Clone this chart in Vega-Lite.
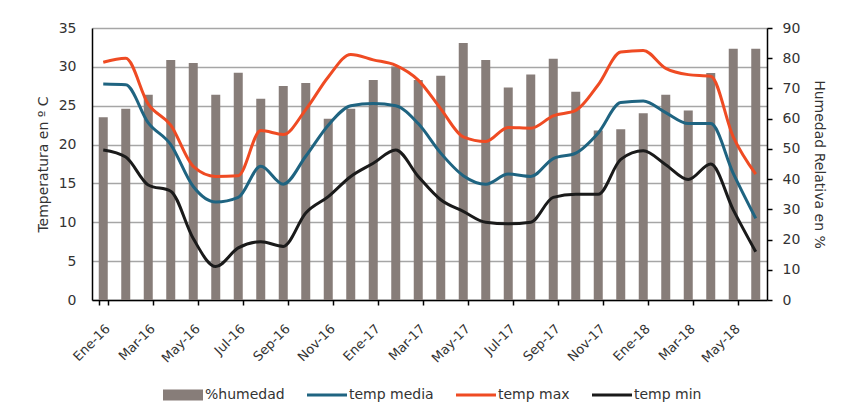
{
  "$schema": "https://vega.github.io/schema/vega-lite/v6.json",
  "autosize": "none",
  "width": 675,
  "height": 272,
  "padding": {"left": 92, "top": 28, "right": 74, "bottom": 116},
  "background": "white",
  "config": {
    "view": {"stroke": null},
    "font": "DejaVu Sans",
    "axis": {"labelFont": "DejaVu Sans", "titleFont": "DejaVu Sans", "labelColor": "#333333", "titleColor": "#333333", "labelFontSize": 14, "titleFontSize": 14, "titleFontWeight": "normal"}
  },
  "data": {"values": [
    {"mes": "Ene-16", "humedad": 60.5, "max": 30.6, "media": 27.8, "min": 19.3},
    {"mes": "Feb-16", "humedad": 63.3, "max": 31.1, "media": 27.7, "min": 18.4},
    {"mes": "Mar-16", "humedad": 67.9, "max": 25.2, "media": 22.8, "min": 14.8},
    {"mes": "Abr-16", "humedad": 79.4, "max": 22.5, "media": 20.0, "min": 14.0},
    {"mes": "May-16", "humedad": 78.4, "max": 17.2, "media": 14.6, "min": 7.9},
    {"mes": "Jun-16", "humedad": 67.9, "max": 15.9, "media": 12.6, "min": 4.3},
    {"mes": "Jul-16", "humedad": 75.2, "max": 16.0, "media": 13.2, "min": 6.7},
    {"mes": "Ago-16", "humedad": 66.6, "max": 21.8, "media": 17.2, "min": 7.5},
    {"mes": "Sep-16", "humedad": 70.8, "max": 21.3, "media": 14.9, "min": 6.9},
    {"mes": "Oct-16", "humedad": 71.8, "max": 24.5, "media": 18.5, "min": 11.2},
    {"mes": "Nov-16", "humedad": 60.0, "max": 28.7, "media": 22.5, "min": 13.3},
    {"mes": "Dic-16", "humedad": 63.3, "max": 31.6, "media": 25.0, "min": 15.9},
    {"mes": "Ene-17", "humedad": 72.8, "max": 30.9, "media": 25.3, "min": 17.6},
    {"mes": "Feb-17", "humedad": 77.3, "max": 30.2, "media": 25.0, "min": 19.3},
    {"mes": "Mar-17", "humedad": 72.8, "max": 28.3, "media": 22.7, "min": 15.9},
    {"mes": "Abr-17", "humedad": 74.2, "max": 24.6, "media": 18.9, "min": 12.9},
    {"mes": "May-17", "humedad": 85.0, "max": 21.0, "media": 16.0, "min": 11.4},
    {"mes": "Jun-17", "humedad": 79.4, "max": 20.4, "media": 14.9, "min": 10.0},
    {"mes": "Jul-17", "humedad": 70.3, "max": 22.2, "media": 16.2, "min": 9.8},
    {"mes": "Ago-17", "humedad": 74.6, "max": 22.1, "media": 15.9, "min": 10.0},
    {"mes": "Sep-17", "humedad": 79.8, "max": 23.7, "media": 18.2, "min": 13.2},
    {"mes": "Oct-17", "humedad": 68.9, "max": 24.4, "media": 18.9, "min": 13.6},
    {"mes": "Nov-17", "humedad": 56.1, "max": 27.7, "media": 21.5, "min": 13.6},
    {"mes": "Dic-17", "humedad": 56.5, "max": 31.9, "media": 25.4, "min": 18.1},
    {"mes": "Ene-18", "humedad": 61.8, "max": 32.1, "media": 25.6, "min": 19.2},
    {"mes": "Feb-18", "humedad": 67.9, "max": 29.8, "media": 24.1, "min": 17.4},
    {"mes": "Mar-18", "humedad": 62.7, "max": 29.0, "media": 22.7, "min": 15.5},
    {"mes": "Abr-18", "humedad": 75.1, "max": 28.8, "media": 22.7, "min": 17.5},
    {"mes": "May-18", "humedad": 83.1, "max": 21.0, "media": 16.3, "min": 11.6},
    {"mes": "Jun-18", "humedad": 83.1, "max": 16.2, "media": 10.5, "min": 6.2}
  ]},
  "transform": [{"fold": ["humedad", "media", "max", "min"], "as": ["serie", "valor"]}],
  "encoding": {
    "x": {
      "field": "mes", "type": "ordinal",
      "scale": {
        "type": "band", "paddingInner": 0.6, "paddingOuter": 0.3,
        "domain": ["Ene-16","Feb-16","Mar-16","Abr-16","May-16","Jun-16","Jul-16","Ago-16","Sep-16","Oct-16","Nov-16","Dic-16","Ene-17","Feb-17","Mar-17","Abr-17","May-17","Jun-17","Jul-17","Ago-17","Sep-17","Oct-17","Nov-17","Dic-17","Ene-18","Feb-18","Mar-18","Abr-18","May-18","Jun-18"]
      },
      "axis": {
        "title": null,
        "values": ["Ene-16","Mar-16","May-16","Jul-16","Sep-16","Nov-16","Ene-17","Mar-17","May-17","Jul-17","Sep-17","Nov-17","Ene-18","Mar-18","May-18"],
        "labelAngle": -45, "labelFontSize": 13, "labelColor": "#333333", "tickBand": "extent", "tickSize": 5, "tickColor": "#000", "tickWidth": 1.5,
        "domainColor": "#000", "domainWidth": 1.5, "labelPadding": 17, "grid": false
      }
    },
    "color": {
      "field": "serie", "type": "nominal",
      "scale": {"domain": ["humedad", "media", "max", "min"], "range": ["#877d79", "#1f6481", "#ef4b23", "#1a1a1a"]},
      "legend": {
        "orient": "none", "legendX": 84, "legendY": 360, "direction": "horizontal", "title": null,
        "symbolType": "stroke", "symbolSize": 1600, "symbolStrokeWidth": 3,
        "labelFont": "DejaVu Sans", "labelFontSize": 14, "labelColor": "#333333", "labelOffset": 15, "columnPadding": 16,
        "labelExpr": "{'humedad': '%humedad', 'media': 'temp media', 'max': 'temp max', 'min': 'temp min'}[datum.label]",
        "encode": {"symbols": {"update": {
          "shape": {"signal": "datum.value === 'humedad' ? 'M-1,-0.28H1V0.28H-1Z' : 'stroke'"},
          "fill": {"signal": "datum.value === 'humedad' ? '#877d79' : 'transparent'"},
          "strokeWidth": {"signal": "datum.value === 'humedad' ? 0 : 3"}
        }}}
      }
    }
  },
  "layer": [
    {
      "transform": [{"filter": "datum.serie === 'humedad'"}],
      "mark": {"type": "bar"},
      "encoding": {
        "y": {
          "field": "valor", "type": "quantitative",
          "scale": {"domain": [0, 90], "nice": false},
          "axis": {"orient": "right", "title": "Humedad Relativa en %", "values": [0,10,20,30,40,50,60,70,80,90], "grid": false,
                   "domainColor": "#000", "domainWidth": 1.5, "tickColor": "#000", "tickSize": 5, "tickWidth": 1.5, "labelPadding": 10, "titlePadding": 12}
        }
      }
    },
    {
      "transform": [{"filter": "datum.serie !== 'humedad'"}],
      "mark": {"type": "line", "interpolate": "monotone", "strokeWidth": 3},
      "encoding": {
        "y": {
          "field": "valor", "type": "quantitative",
          "scale": {"domain": [0, 35], "nice": false},
          "axis": {"orient": "left", "title": "Temperatura en º C", "values": [0,5,10,15,20,25,30,35], "grid": true,
                   "gridColor": "#a6a6a6", "gridWidth": 1.5, "domainColor": "#000", "domainWidth": 1.5, "ticks": false, "labelPadding": 16, "titlePadding": 8}
        }
      }
    }
  ],
  "resolve": {"scale": {"y": "independent"}}
}
